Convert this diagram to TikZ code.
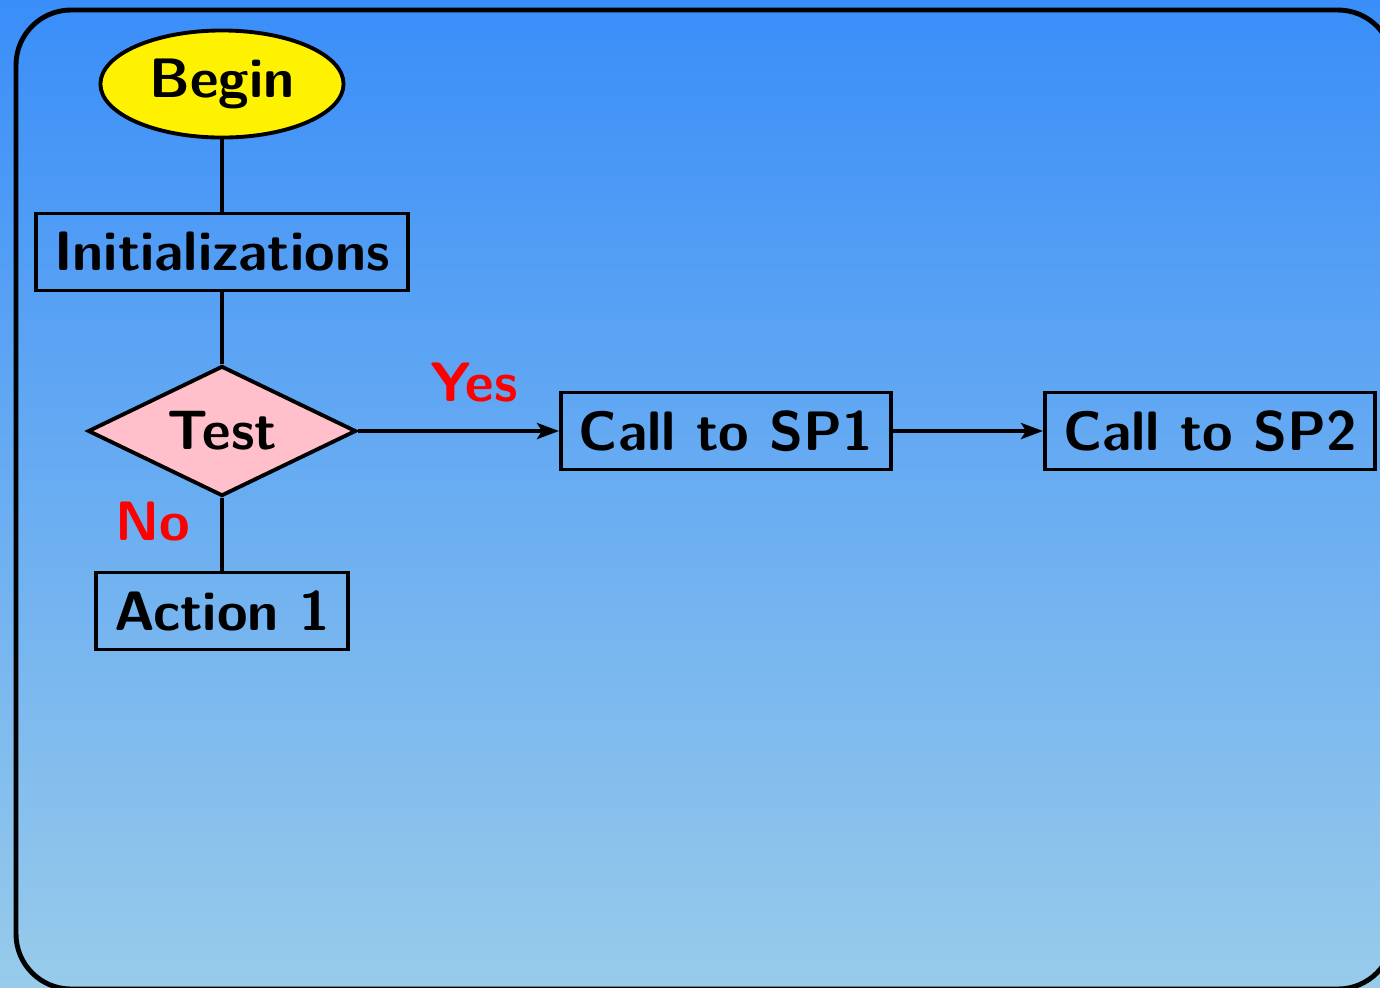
\documentclass[tikz,border=0pt]{standalone}
\usetikzlibrary{shapes.geometric,arrows.meta}
\definecolor{bgtop}{RGB}{58,142,249}
\definecolor{bgbottom}{RGB}{152,203,234}
\definecolor{testpink}{RGB}{255,192,203}
\begin{document}
\begin{tikzpicture}[x=0.01cm,y=-0.01cm,
  every node/.style={font=\fontsize{15.8}{19}\selectfont\sffamily\bfseries},
  block/.style={draw,line width=1.1pt,rectangle,inner xsep=0.18cm,minimum height=0.77cm},
  startstop/.style={draw,line width=1.1pt,ellipse,fill=yellow,minimum width=2.43cm,minimum height=1.07cm,inner sep=0pt},
  decision/.style={draw,line width=1.1pt,diamond,fill=testpink,aspect=2.06,inner sep=0pt,minimum width=2.68cm,minimum height=1.30cm},
  link/.style={line width=1.1pt},
  flow/.style={line width=1.1pt,-{Stealth[length=0.22cm,width=0.16cm,inset=0.05cm]}},
  answer/.style={text=red}]
  % page area and background
  \useasboundingbox (0,0) rectangle (1380,987);
  \clip (0,0) rectangle (1380,987);
  \shade[top color=bgtop,bottom color=bgbottom] (0,0) rectangle (1380,987);
  \draw[line width=1.4pt,rounded corners=0.55cm] (16,10) rectangle (1393,989);

  % flowchart nodes
  \node[startstop] (begin) at (222,84) {Begin};
  \node[block] (init) at (222,252) {Initializations};
  \node[decision] (test) at (222,431) {Test};
  \node[block] (act) at (222,611) {Action 1};
  \node[block] (sp1) at (726,431) {Call to SP1};
  \node[block] (sp2) at (1210,431) {Call to SP2};

  % connectors
  \draw[link] (begin) -- (init);
  \draw[link] (init) -- (test);
  \draw[link] (test) -- (act);
  \draw[flow] (test) -- (sp1);
  \draw[flow] (sp1) -- (sp2);

  % branch labels
  \node[answer] (yes) at (474,383) {Yes};
  \node[answer] (no) at (153,522) {No};
\end{tikzpicture}
\end{document}
